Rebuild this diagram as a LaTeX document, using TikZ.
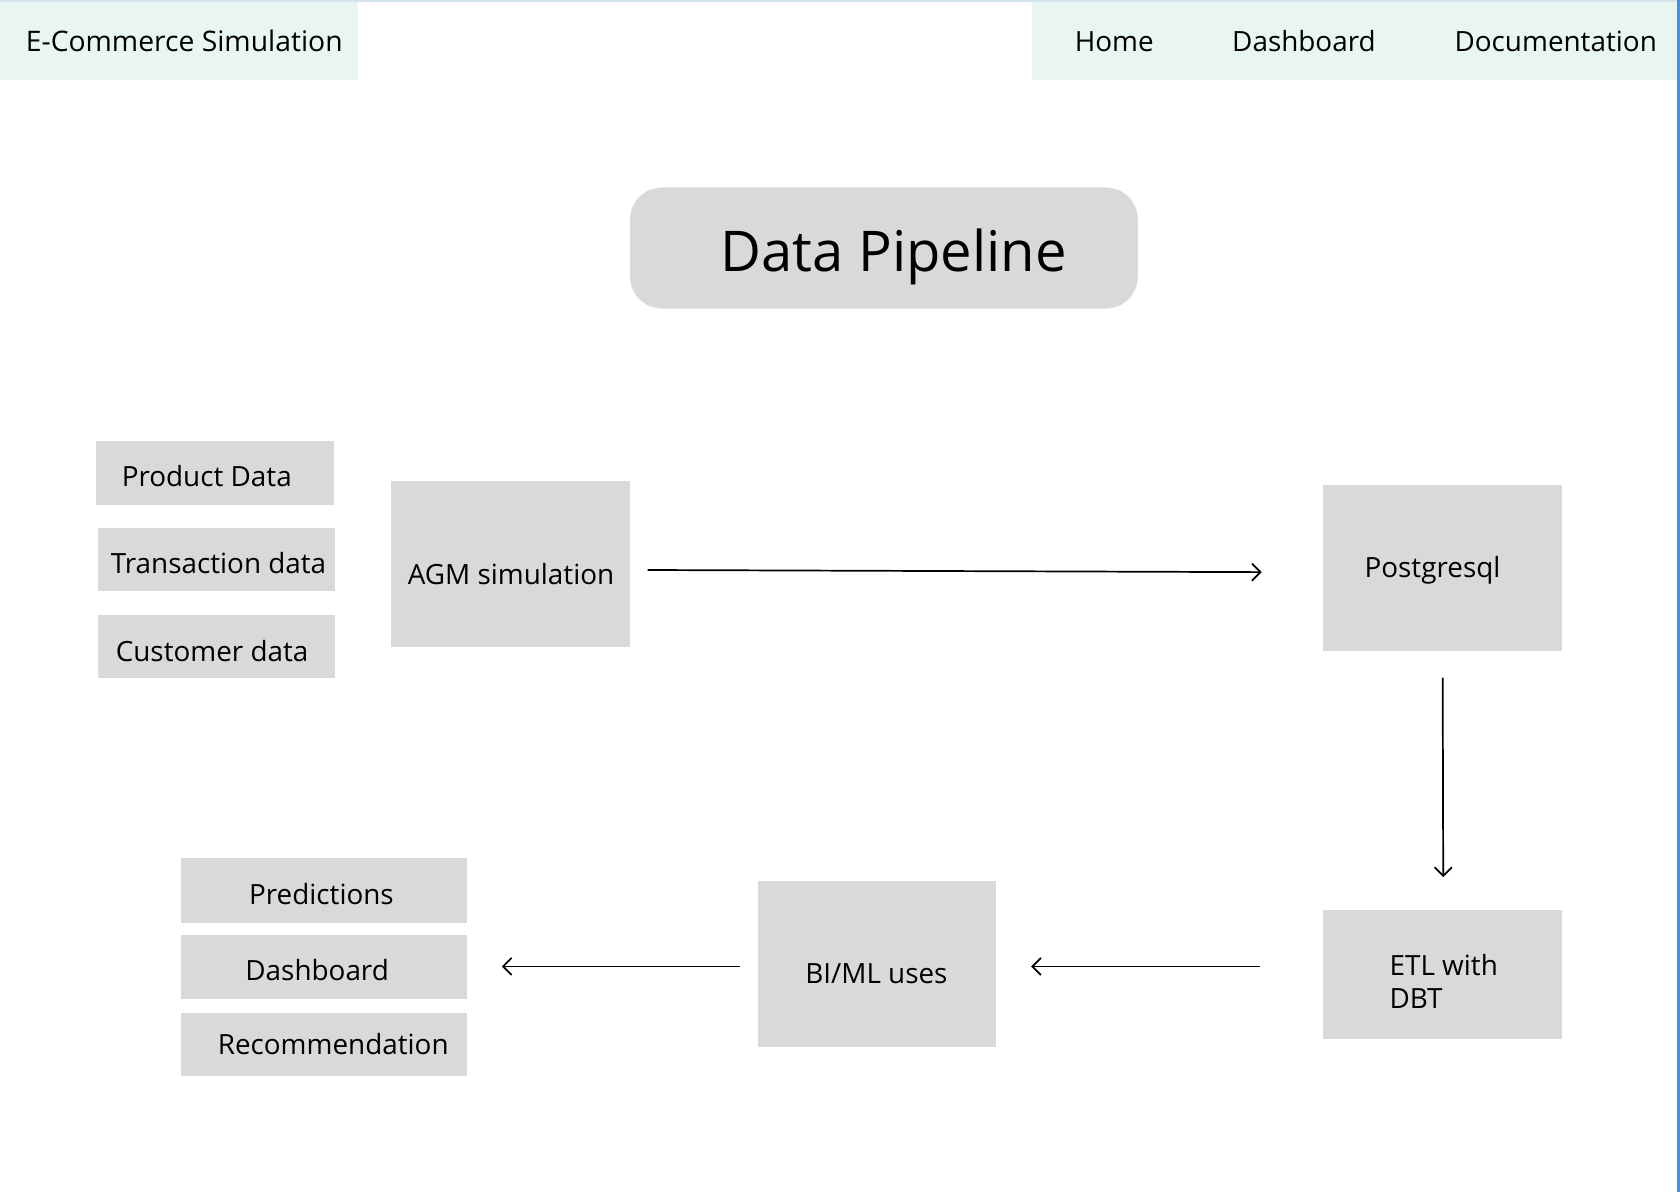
\documentclass[tikz,border=0pt]{standalone}
\usepackage{fontspec}
\setmainfont{Open Sans}
\usetikzlibrary{arrows.meta,calc}
\definecolor{mint}{HTML}{E8F5F1}
\definecolor{boxgray}{HTML}{D9D9D9}
\definecolor{edgeblue}{HTML}{4A8EDF}
\definecolor{topline}{HTML}{D5E3EA}
% #1 = horizontal offset doubled, #2 = baseline raise, #3 = text
\newcommand\boxtext[3]{\raisebox{#2}[0pt][0pt]{\makebox[0pt]{\hspace*{#1}#3}}}
\begin{document}
\begin{tikzpicture}[x=0.5pt,y=-0.5pt,
  box/.style={fill=boxgray, draw=none, inner sep=0pt, font=\fontsize{13}{15.5}\selectfont},
  navtext/.style={inner sep=0pt, font=\fontsize{13}{16}\selectfont},
  arr/.style={-{Straight Barb[length=4pt,width=8pt]}, line width=0.8pt},
]
\useasboundingbox (0,0) rectangle (1568,1112.5);
\fill[white] (0,0) rectangle (1568,1112.5);
% header
\node[fill=mint, inner sep=0pt, minimum width=167pt, minimum height=37.5pt,
      font=\fontsize{13.2}{16}\selectfont] (brand) at (167,37.5) {\boxtext{5pt}{-5.4pt}{E-Commerce Simulation}};
\fill[mint] (963,0) rectangle (1566,75);
\draw[topline, line width=1pt] (0,0.5) -- (1568,0.5);
\node[navtext] (home) at (1040,38.5) {Home};
\node[navtext] (dash) at (1217,38.5) {Dashboard};
\node[navtext] (doc) at (1452,38.5) {Documentation};
\fill[edgeblue] (1565,0) rectangle (1567.8,1112.5);
% title
\node[fill=boxgray, rounded corners=15pt, inner sep=0pt, minimum width=237pt,
      minimum height=56.5pt, font=\fontsize{26.2}{30}\selectfont] (title) at (825,231.5)
      {\boxtext{9pt}{-10.75pt}{Data Pipeline}};
% inputs
\node[box, minimum width=111pt, minimum height=29.5pt] (prod) at (201,441.5) {\boxtext{-8pt}{-6.4pt}{Product Data}};
\node[box, minimum width=111pt, minimum height=29.5pt] (trans) at (202,522.5) {\boxtext{2pt}{-6.4pt}{Transaction data}};
\node[box, minimum width=111pt, minimum height=29.5pt] (cust) at (202,603.5) {\boxtext{-4pt}{-6.9pt}{Customer data}};
% pipeline
\node[box, minimum width=111.5pt, minimum height=77.5pt] (agm) at (476.5,526.5) {\boxtext{0.5pt}{-9.4pt}{AGM simulation}};
\node[box, minimum width=111.5pt, minimum height=77.5pt] (pg) at (1346.5,530.5) {\boxtext{-9.5pt}{-4.4pt}{Postgresql}};
\node[box, minimum width=111.5pt, minimum height=60.5pt] (etl) at (1346.5,909.5)
  {\raisebox{-0.4pt}[0pt][0pt]{\makebox[0pt][l]{\hspace*{-24.75pt}\begin{tabular}[t]{@{}l@{}}ETL with\\DBT\end{tabular}}}};
\node[box, minimum width=111.5pt, minimum height=77.5pt] (bi) at (818.5,899.5) {\boxtext{-0.5pt}{-9.2pt}{BI/ML uses}};
% outputs
\node[box, minimum width=133.5pt, minimum height=30pt] (pred) at (302.5,831) {\boxtext{-2.5pt}{-6.65pt}{Predictions}};
\node[box, minimum width=133.5pt, minimum height=29.5pt] (dboard) at (302.5,902.5) {\boxtext{-6.5pt}{-6.4pt}{Dashboard}};
\node[box, minimum width=133.5pt, minimum height=29.5pt] (rec) at (302.5,974.5) {\boxtext{8.5pt}{-4.9pt}{Recommendation}};
% connectors
\draw[arr] ($(agm.east)+(16,5.5)$) -- ($(pg.west)+(-57,3.5)$);
\draw[arr] ($(pg.south)+(0,24)$) -- ($(etl.north)+(0.5,-30)$);
\draw[arr] ($(etl.west)+(-59,-7.5)$) -- ($(bi.east)+(32,2.5)$);
\draw[arr] ($(bi.west)+(-16,2.5)$) -- ($(dboard.east)+(32,-0.5)$);
\end{tikzpicture}
\end{document}
